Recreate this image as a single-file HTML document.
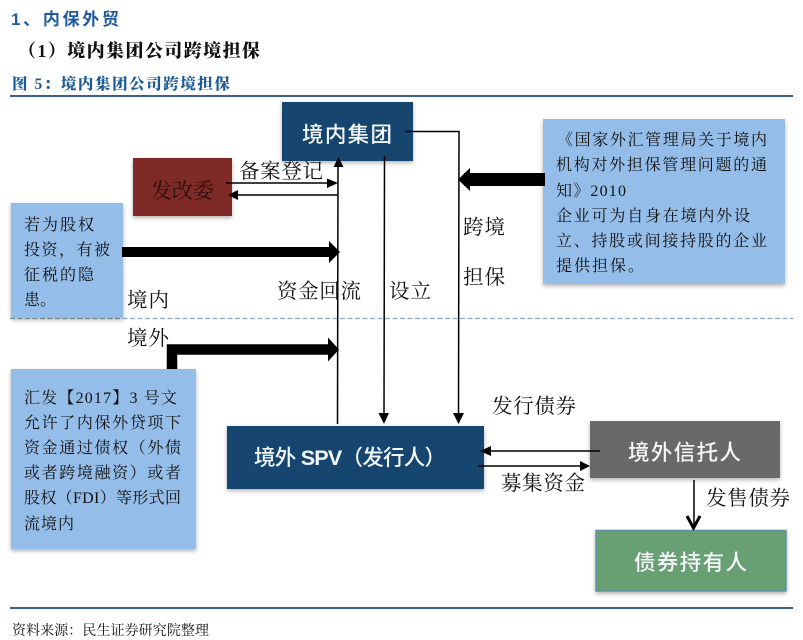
<!DOCTYPE html>
<html lang="zh"><head><meta charset="utf-8">
<style>
html,body{margin:0;padding:0;background:#fff;width:803px;height:640px;overflow:hidden}
svg{display:block}
.se{font-family:"Liberation Serif","Noto Serif CJK SC",serif}
.sa{font-family:"Liberation Sans","Noto Sans CJK SC",sans-serif}
.lab{font-size:20.500px;fill:#111}
.bt{font-size:16px;fill:#111}
.w{font-size:21.500px;fill:#f4f7fa;font-weight:500}
</style></head><body>
<svg width="803" height="640" viewBox="0 0 803 640" xmlns="http://www.w3.org/2000/svg">
<defs>
<filter id="s" x="-10%" y="-10%" width="120%" height="125%"><feDropShadow dx="0" dy="2" stdDeviation="2" flood-color="#000" flood-opacity=".3"/></filter>
</defs>

<text x="11" y="25" class="sa" font-size="17" font-weight="700" fill="#1f5a9e" textLength="108">1、内保外贸</text>
<text x="18" y="57" class="se" font-size="18" font-weight="900" fill="#111" textLength="242">（1）境内集团公司跨境担保</text>
<text x="12" y="89" class="se" font-size="15.500" font-weight="900" fill="#1d5a9a" textLength="218">图 5：境内集团公司跨境担保</text>
<rect x="10" y="95" width="783" height="2" fill="#3c5f86"/>
<rect x="10" y="607" width="783" height="2" fill="#3c5f86"/>
<text x="12" y="635" class="se" font-size="14" fill="#111" textLength="197">资料来源：民生证券研究院整理</text>

<line x1="10" y1="318.500" x2="793" y2="318.500" stroke="#8faabc" stroke-width="1.300" stroke-dasharray="5 2.500"/>

<!-- boxes -->
<rect x="282" y="102" width="131" height="59" fill="#17446f" filter="url(#s)"/>
<rect x="133" y="158" width="99" height="58" fill="#7f2a27" filter="url(#s)"/>
<rect x="11" y="203" width="112" height="115" fill="#95bde9" filter="url(#s)"/>
<rect x="543" y="119" width="242" height="165" fill="#95bde9" filter="url(#s)"/>
<rect x="11" y="369" width="185" height="180" fill="#95bde9" filter="url(#s)"/>
<rect x="227" y="426" width="257" height="63" fill="#17446f" filter="url(#s)"/>
<rect x="590" y="421" width="190" height="57" fill="#696969" filter="url(#s)"/>
<rect x="596" y="530.500" width="190" height="60.500" fill="#689f73" stroke="#5f93a6" stroke-width="1.500" filter="url(#s)"/>

<!-- box labels -->
<text x="302" y="142" class="sa w" textLength="90">境内集团</text>
<text x="151" y="198" class="se" font-size="21" fill="#2a0f0c" textLength="63">发改委</text>
<text x="254" y="465" class="sa w" textLength="192"><tspan>境外 </tspan><tspan font-weight="700">SPV</tspan><tspan>（发行人）</tspan></text>
<text x="628" y="460" class="sa w" textLength="113">境外信托人</text>
<text x="634" y="570" class="sa w" textLength="113">债券持有人</text>

<!-- left box 1 -->
<g class="se bt">
<text x="24" y="230" textLength="70">若为股权</text>
<text x="24" y="255" textLength="86">投资，有被</text>
<text x="24" y="280" textLength="70">征税的隐</text>
<text x="24" y="305">患。</text>
</g>
<!-- right box -->
<g class="se bt">
<text x="557" y="145" textLength="210">《国家外汇管理局关于境内</text>
<text x="556" y="170" textLength="211">机构对外担保管理问题的通</text>
<text x="556" y="196" textLength="70">知》2010</text>
<text x="556" y="221" textLength="194">企业可为自身在境内外设</text>
<text x="556" y="246" textLength="211">立、持股或间接持股的企业</text>
<text x="556" y="271" textLength="88">提供担保。</text>
</g>
<!-- lower left box -->
<g class="se bt">
<text x="24" y="403" textLength="153">汇发【2017】3 号文</text>
<text x="24" y="428" textLength="157">允许了内保外贷项下</text>
<text x="24" y="453" textLength="157">资金通过债权（外债</text>
<text x="24" y="478" textLength="157">或者跨境融资）或者</text>
<text x="24" y="503" textLength="157">股权（FDI）等形式回</text>
<text x="24" y="529" textLength="50">流境内</text>
</g>

<!-- free labels -->
<g class="se lab">
<text x="239" y="178" textLength="84">备案登记</text>
<text x="127" y="307" textLength="42">境内</text>
<text x="127" y="345" textLength="42">境外</text>
<text x="277" y="298" textLength="84">资金回流</text>
<text x="389" y="298" textLength="42">设立</text>
<text x="463" y="234" textLength="42">跨境</text>
<text x="463" y="284" textLength="42">担保</text>
<text x="492" y="413" textLength="84">发行债券</text>
<text x="501" y="490" textLength="84">募集资金</text>
<text x="706" y="505" textLength="84">发售债券</text>
</g>

<!-- connectors -->
<g stroke="#000" fill="none">
<line x1="338" y1="164" x2="337.500" y2="424" stroke-width="1.500"/>
<line x1="384.500" y1="156" x2="384" y2="416" stroke-width="1.500"/>
<polyline points="405,131.500 459,131.500 458.500,416" stroke-width="1.500"/>
<line x1="226" y1="183" x2="330" y2="183" stroke-width="1.500"/>
<line x1="338" y1="195" x2="238" y2="195" stroke-width="1.500"/>
<line x1="600" y1="451" x2="490" y2="451" stroke-width="1.500"/>
<line x1="478" y1="466" x2="582" y2="466" stroke-width="1.500"/>
<line x1="694" y1="480" x2="694" y2="526" stroke-width="1.500"/>
<polyline points="687,516 693.500,528 700,516" stroke-width="3"/>
<rect x="122" y="247" width="208" height="10" fill="#000" stroke="none"/>
<rect x="464" y="173" width="81" height="13" fill="#000" stroke="none"/>
<polyline points="172,369 172,349.500 330,349.500" stroke-width="10.500"/>
</g>
<g fill="#000">
<polygon points="338.500,157 333.500,167 343.500,167"/>
<polygon points="338,183 327,178.500 327,188"/>
<polygon points="228,195 238,190 238,200"/>
<polygon points="340,252 329,241 329,263"/>
<polygon points="458,179.500 470,168 470,191"/>
<polygon points="339,349.500 328,337.500 328,361.500"/>
<polygon points="384,424 378.500,413 389,413"/>
<polygon points="458.500,424 453,413 464,413"/>
<polygon points="480,451 491,446 491,456"/>
<polygon points="590,466 580,461 580,471"/>
</g>
</svg>
</body></html>
